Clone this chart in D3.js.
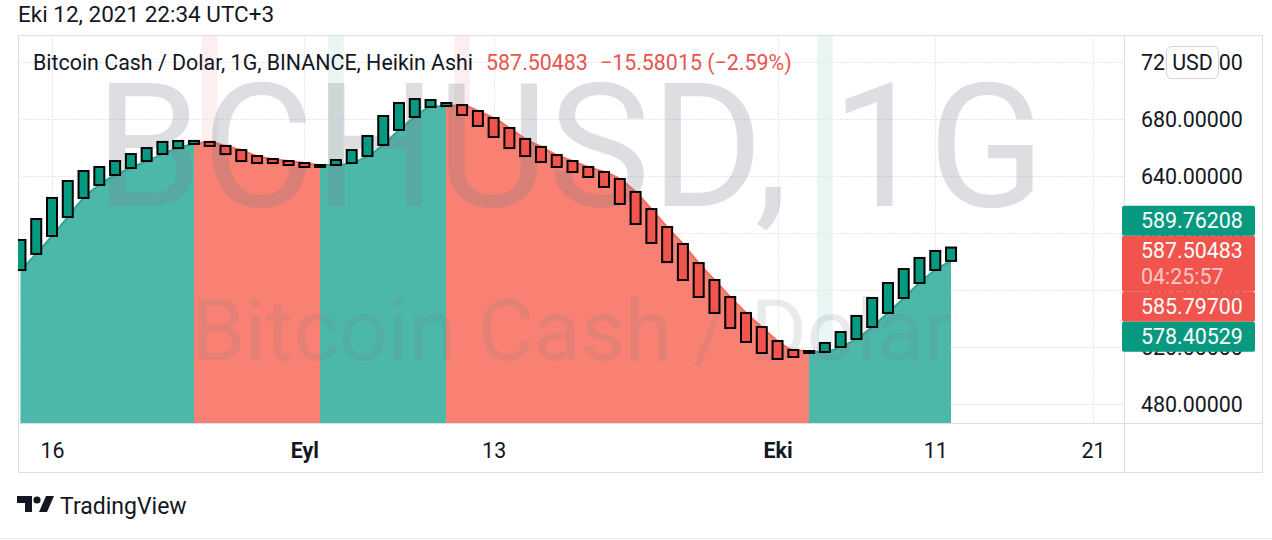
<!DOCTYPE html>
<html>
<head>
<meta charset="utf-8">
<script src="https://cdn.jsdelivr.net/npm/d3@7"></script>
<style>
  html, body { margin: 0; padding: 0; background: #fff; }
  svg { display: block; font-family: Roboto, "Noto Sans", sans-serif; }
</style>
</head>
<body>
<svg id="chart" width="1272" height="540"></svg>
<script>
// Heikin Ashi daily candles, Aug 14 .. Oct 12 2021
var firstDay = new Date(Date.UTC(2021, 7, 14)),
    lastDay = new Date(Date.UTC(2021, 9, 13));
var dates = d3.utcDay.range(firstDay, lastDay);

var haOpen = [574.0, 585.3, 597.9, 611.2, 624.6, 633.7, 640.7, 645.6, 650.5, 655.4,
              659.6, 662.5, 663.9, 661.1, 658.2, 654.0, 651.9, 650.5, 649.1, 647.7,
              647.7, 649.1, 654.0, 661.8, 672.3, 681.4, 688.4, 689.1, 689.8, 685.6,
              680.7, 673.7, 666.0, 660.4, 654.7, 650.5, 646.3, 642.8, 637.9, 628.8,
              616.8, 604.2, 592.3, 578.9, 567.0, 555.1, 543.9, 534.0, 524.2, 517.9,
              517.2, 516.5, 520.0, 525.6, 534.0, 543.9, 554.4, 564.9, 574.0, 580.4];
var haClose = [595.1, 609.8, 624.6, 636.5, 643.5, 646.3, 650.5, 655.4, 659.6, 663.9,
               664.6, 664.6, 661.1, 655.4, 650.5, 649.1, 649.1, 647.7, 646.3, 646.3,
               651.2, 658.2, 668.1, 682.1, 691.2, 694.0, 693.3, 691.2, 682.8, 675.1,
               667.4, 659.6, 654.0, 649.8, 646.3, 642.8, 639.3, 632.3, 620.4, 606.3,
               593.0, 579.6, 567.0, 555.1, 543.9, 533.3, 523.5, 515.8, 511.6, 513.0,
               515.8, 522.8, 530.5, 541.8, 554.4, 564.9, 574.7, 582.5, 587.4, 589.8];

var priceTicks = [480, 520, 560, 600, 640, 680, 720];
var timeTicks = [new Date(Date.UTC(2021, 7, 16)), new Date(Date.UTC(2021, 8, 1)),
                 new Date(Date.UTC(2021, 8, 13)), new Date(Date.UTC(2021, 9, 1)),
                 new Date(Date.UTC(2021, 9, 11)), new Date(Date.UTC(2021, 9, 21))];
var timeLabels = ["16", "Eyl", "13", "Eki", "11", "21"];
var timeBold = [false, true, false, true, false, false];

// labels on the price scale
var currentPrice = 587.50483,
    countdown = "04:25:57";
var sideValues = [589.76208, 585.79700, 578.40529];
var sideColors = ["up", "down", "up"];

var colors = {
        up: '#089981',
        down: '#f0544c',
        upArea: '#4cb8aa',
        downArea: '#f98173',
        upEdge: '#2ea596',
        downEdge: '#f46a5d',
        grid: '#e6e8ee',
        border: '#dcdfe6',
        text: '#131722'
    };

var fontSize = '21.4px';

var plot = { left: 18, right: 1124, top: 35, bottom: 423 },
    frame = { right: 1262, bottom: 472 };

var svg = d3.select('#chart');

var x = d3.scaleUtc()
    .domain([timeTicks[0], timeTicks[timeTicks.length - 1]])
    .range([52, 1093]);
var y = d3.scaleLinear()
    .domain([480, 680])
    .range([404, 119]);

var step = x(dates[1]) - x(dates[0]),
    bodyW = 10;

var dir = haOpen.map(function(o, i) {
    return haClose[i] >= o ? 'up' : 'down';
});

svg.append('defs').append('clipPath')
    .attr('id', 'plotClip')
    .append('rect')
    .attr('x', plot.left).attr('y', plot.top)
    .attr('width', plot.right - plot.left).attr('height', plot.bottom - plot.top);

// date / time stamp
svg.append('text')
    .attr('x', 18).attr('y', 22)
    .style('font-size', '22.5px').style('fill', colors.text)
    .text('Eki 12, 2021 22:34 UTC+3');

// frame
var frameG = svg.append('g').style('stroke', colors.border).style('fill', 'none');
frameG.append('rect')
    .attr('x', plot.left + 0.5).attr('y', plot.top + 0.5)
    .attr('width', frame.right - plot.left).attr('height', frame.bottom - plot.top);
frameG.append('line')
    .attr('x1', plot.right + 0.5).attr('x2', plot.right + 0.5)
    .attr('y1', plot.top).attr('y2', frame.bottom);
frameG.append('line')
    .attr('x1', plot.left).attr('x2', frame.right)
    .attr('y1', plot.bottom + 0.5).attr('y2', plot.bottom + 0.5);

var chart = svg.append('g').attr('clip-path', 'url(#plotClip)');

// pale columns at trend changes
chart.selectAll('.change-band')
    .data(dates.filter(function(d, i) { return i > 0 && dir[i] !== dir[i - 1]; }))
    .enter().append('rect')
    .attr('class', 'change-band')
    .attr('x', function(d) { return x(d) - step / 2; })
    .attr('y', plot.top)
    .attr('width', step)
    .attr('height', plot.bottom - plot.top)
    .style('fill', function(d) {
        var i = dates.indexOf(d);
        return dir[i] === 'up' ? '#9fd8c8' : '#f7b5b5';
    })
    .style('opacity', 0.22);

// grid
chart.selectAll('.hgrid')
    .data(priceTicks)
    .enter().append('line')
    .attr('class', 'hgrid')
    .attr('x1', plot.left).attr('x2', plot.right)
    .attr('y1', function(d) { return Math.round(y(d)) + 0.5; })
    .attr('y2', function(d) { return Math.round(y(d)) + 0.5; })
    .style('stroke', colors.grid).style('stroke-dasharray', '2,1');
chart.selectAll('.vgrid')
    .data(timeTicks)
    .enter().append('line')
    .attr('class', 'vgrid')
    .attr('y1', plot.top).attr('y2', plot.bottom)
    .attr('x1', function(d) { return Math.round(x(d)) + 0.5; })
    .attr('x2', function(d) { return Math.round(x(d)) + 0.5; })
    .style('stroke', colors.grid).style('stroke-dasharray', '2,1');

// area under the series, coloured by candle direction
var clipUp = svg.select('defs').append('clipPath').attr('id', 'clipUp'),
    clipDown = svg.select('defs').append('clipPath').attr('id', 'clipDown');
dates.forEach(function(d, i) {
    var x0 = i === 0 ? plot.left : Math.round(x(dates[i - 1])),
        x1 = Math.round(x(d));
    (dir[i] === 'up' ? clipUp : clipDown).append('rect')
        .attr('x', x0).attr('y', plot.top)
        .attr('width', x1 - x0).attr('height', plot.bottom - plot.top);
});

var area = d3.area()
    .x(function(d, i) { return x(dates[i]); })
    .y0(plot.bottom)
    .y1(function(d) { return y(d); })
    .curve(d3.curveMonotoneX);
var edge = d3.line()
    .x(function(d, i) { return x(dates[i]); })
    .y(function(d) { return y(d); })
    .curve(d3.curveMonotoneX);

['up', 'down'].forEach(function(k) {
    var g = chart.append('g').attr('clip-path', 'url(#clip' + (k === 'up' ? 'Up' : 'Down') + ')');
    g.append('path').datum(haOpen)
        .attr('d', area)
        .style('fill', colors[k + 'Area']);
    g.append('path').datum(haOpen)
        .attr('d', edge)
        .style('fill', 'none')
        .style('stroke', colors[k + 'Edge'])
        .style('stroke-width', 2);
});

// watermark
chart.append('text')
    .attr('x', 570).attr('y', 206)
    .attr('text-anchor', 'middle')
    .style('font-size', '172px')
    .style('fill', 'rgba(120,123,134,0.25)')
    .text('BCHUSD, 1G');
chart.append('text')
    .attr('x', 572).attr('y', 360)
    .attr('text-anchor', 'middle')
    .style('font-size', '86px')
    .style('fill', 'rgba(120,123,134,0.16)')
    .text('Bitcoin Cash / Dolar');

// candles
chart.selectAll('.candle')
    .data(dates)
    .enter().append('rect')
    .attr('class', 'candle')
    .attr('x', function(d) { return x(d) - bodyW / 2; })
    .attr('y', function(d, i) { return y(Math.max(haOpen[i], haClose[i])); })
    .attr('width', bodyW)
    .attr('height', function(d, i) { return Math.max(1, Math.abs(y(haOpen[i]) - y(haClose[i]))); })
    .style('fill', function(d, i) { return colors[dir[i]]; })
    .style('stroke', '#000')
    .style('stroke-width', 2);

// legend line
var legend = svg.append('text')
    .attr('x', 33).attr('y', 70)
    .style('font-size', fontSize);
legend.append('tspan').style('fill', colors.text)
    .text('Bitcoin Cash / Dolar, 1G, BINANCE, Heikin Ashi');
legend.append('tspan').attr('dx', 13).style('fill', '#e8544e')
    .text(currentPrice.toFixed(5));
legend.append('tspan').attr('dx', 12).style('fill', '#e8544e')
    .text('\u221215.58015 (\u22122.59%)');

// price axis
var yAxis = d3.axisRight(y)
    .tickValues(priceTicks)
    .tickSize(0)
    .tickPadding(0)
    .tickFormat(d3.format('.5f'));
var yAxisG = svg.append('g')
    .attr('transform', 'translate(1141,0)')
    .call(yAxis);
yAxisG.select('.domain').remove();
yAxisG.selectAll('text')
    .attr('dy', '0.35em')
    .style('font-family', 'Roboto, sans-serif')
    .style('font-size', fontSize)
    .style('fill', colors.text);

// USD unit button
svg.append('rect')
    .attr('x', 1166.5).attr('y', 46.5).attr('width', 52).attr('height', 32).attr('rx', 5)
    .style('fill', '#fff').style('stroke', '#d1d4dc');
svg.append('text')
    .attr('x', 1192.5).attr('y', 70)
    .attr('text-anchor', 'middle')
    .style('font-size', fontSize).style('fill', colors.text)
    .text('USD');

// time axis
var xAxis = d3.axisBottom(x)
    .tickValues(timeTicks)
    .tickSize(0)
    .tickPadding(0)
    .tickFormat(function(d, i) { return timeLabels[i]; });
var xAxisG = svg.append('g')
    .attr('transform', 'translate(0,450)')
    .call(xAxis);
xAxisG.select('.domain').remove();
xAxisG.selectAll('text')
    .attr('dy', '0.35em')
    .style('font-family', 'Roboto, sans-serif')
    .style('font-size', fontSize)
    .style('font-weight', function(d, i) { return timeBold[i] ? 'bold' : 'normal'; })
    .style('fill', colors.text);

// price labels stacked around the current price
var labelH = 30,
    curTop = y(currentPrice) - 15,
    curH = 56;
var labelG = svg.append('g');
function priceLabel(top, h, fill) {
    labelG.append('rect')
        .attr('x', 1122).attr('y', top).attr('width', 133).attr('height', h).attr('rx', 2)
        .style('fill', fill);
}
priceLabel(curTop, curH, colors.down);
labelG.append('text')
    .attr('x', 1141).attr('y', y(currentPrice)).attr('dy', '0.35em')
    .style('font-size', fontSize).style('fill', '#fff')
    .text(currentPrice.toFixed(5));
labelG.append('text')
    .attr('x', 1141).attr('y', y(currentPrice) + 26).attr('dy', '0.35em')
    .style('font-size', fontSize).style('fill', 'rgba(255,255,255,0.7)')
    .text(countdown);

var above = curTop, below = curTop + curH;
sideValues.forEach(function(v, i) {
    var top;
    if (v > currentPrice) {
        top = Math.min(y(v) - labelH / 2, above - labelH);
        above = top;
    } else {
        top = Math.max(y(v) - labelH / 2, below);
        below = top + labelH;
    }
    priceLabel(top, labelH, colors[sideColors[i]]);
    labelG.append('text')
        .attr('x', 1141).attr('y', top + labelH / 2).attr('dy', '0.35em')
        .style('font-size', fontSize).style('fill', '#fff')
        .text(v.toFixed(5));
});

// TradingView logo
var logo = svg.append('g').attr('transform', 'translate(17,496)').style('fill', '#131722');
logo.append('path').attr('d', 'M0 0 H15 V16 H8 V7 H0 Z');
logo.append('circle').attr('cx', 20).attr('cy', 4).attr('r', 3.6);
logo.append('path').attr('d', 'M29 0 H37 L30 16 H22 Z');
svg.append('text')
    .attr('x', 60).attr('y', 514)
    .style('font-size', '23px').style('fill', colors.text)
    .text('TradingView');

svg.append('line')
    .attr('x1', 0).attr('x2', 1272).attr('y1', 538.5).attr('y2', 538.5)
    .style('stroke', '#e3e6ef');
</script>
</body>
</html>
